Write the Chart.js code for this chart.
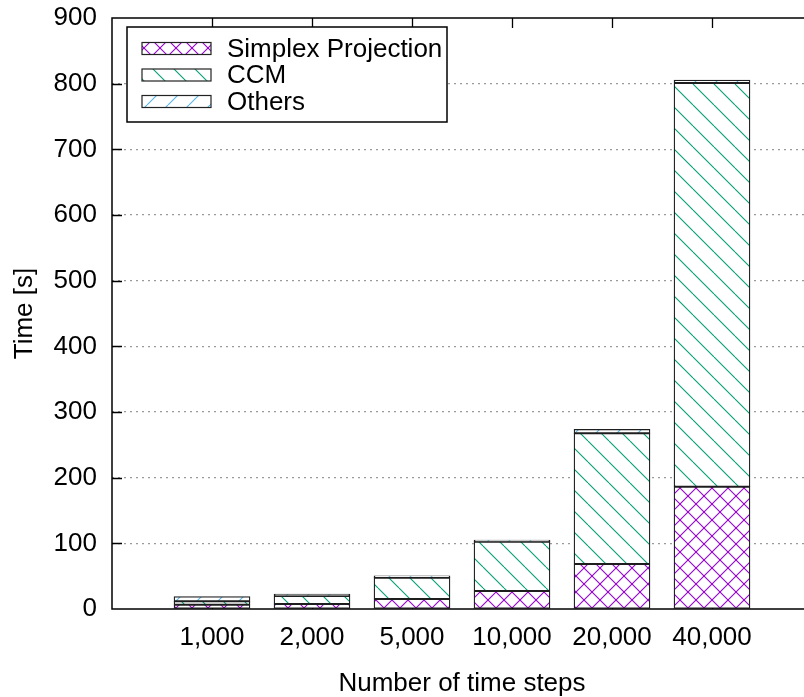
<!DOCTYPE html>
<html>
<head>
<meta charset="utf-8">
<script src="https://cdn.jsdelivr.net/npm/chart.js@4"></script>
<style>
  html, body { margin: 0; padding: 0; overflow: hidden; background: #fff; }
  canvas { display: block; }
</style>
</head>
<body>
<canvas id="c" width="830" height="697"></canvas>
<script>
// Run time per pipeline stage for growing input lengths (empty slots pad the axis ends)
const categories   = ['', '1,000', '2,000', '5,000', '10,000', '20,000', '40,000', ''];
const simplexTimes = [null, 6.5, 7.6, 15.2, 27.4, 68.5, 186.3, null];
const ccmTimes     = [null, 5.2, 12.2, 32.5, 75.1, 199.0, 614.7, null];
const otherTimes   = [null, 7.1, 3.0, 3.0, 2.5, 6.1, 4.5, null];
const seriesNames  = ['Simplex Projection', 'CCM', 'Others'];
const yTickValues  = [0, 100, 200, 300, 400, 500, 600, 700, 800, 900];

const FONT = "'Liberation Sans', Arial, Helvetica, sans-serif";
const FONT_SIZE = 26;
const canvas = document.getElementById('c');
const ctx = canvas.getContext('2d');

// Hatched fills on a white ground: 'back' = \\\ , 'fwd' = ///, 'cross' = xxx
function hatch(color, kind, period) {
  const t = document.createElement('canvas');
  t.width = period; t.height = period;
  const g = t.getContext('2d');
  g.fillStyle = '#fff';
  g.fillRect(0, 0, period, period);
  g.strokeStyle = color;
  g.lineWidth = 1.1;
  const seg = (x0, y0, x1, y1) => { g.beginPath(); g.moveTo(x0, y0); g.lineTo(x1, y1); g.stroke(); };
  for (const o of [-period, 0, period]) {
    if (kind === 'back' || kind === 'cross') seg(o, 0, o + period, period);
    if (kind === 'fwd' || kind === 'cross') seg(o, period, o + period, 0);
  }
  return ctx.createPattern(t, 'repeat');
}

const fills = [
  hatch('#9400d3', 'cross', 16),
  hatch('#009e73', 'back', 21),
  hatch('#56b4e9', 'fwd', 21)
];

// Inward tick marks and the plot frame
const framePlugin = {
  id: 'frame',
  beforeDatasetsDraw(chart) {
    const { ctx, chartArea: a, scales: { x, y } } = chart;
    ctx.save();
    ctx.strokeStyle = '#000';
    ctx.lineWidth = 1.3;
    ctx.beginPath();
    for (const v of yTickValues.slice(1, -1)) {
      const py = Math.round(y.getPixelForValue(v)) + 0.5;
      ctx.moveTo(a.left, py); ctx.lineTo(a.left + 10, py);
    }
    for (let i = 1; i < categories.length - 1; i++) {
      const px = Math.round(x.getPixelForValue(i)) + 0.5;
      ctx.moveTo(px, a.top); ctx.lineTo(px, a.top + 10);
      ctx.moveTo(px, a.bottom); ctx.lineTo(px, a.bottom - 10);
    }
    ctx.stroke();
    ctx.restore();
  },
  afterDatasetsDraw(chart) {
    const { ctx, chartArea: a } = chart;
    ctx.save();
    ctx.strokeStyle = '#000';
    ctx.lineWidth = 1.5;
    ctx.strokeRect(a.left, a.top, a.right - a.left, a.bottom - a.top);
    ctx.restore();
  }
};

// Boxed key in the upper-left corner of the plot
const keyPlugin = {
  id: 'boxKey',
  afterDraw(chart) {
    const { ctx } = chart;
    const box = { x: 127, y: 27, w: 320, h: 95 };
    ctx.save();
    ctx.fillStyle = '#fff';
    ctx.fillRect(box.x, box.y, box.w, box.h);
    ctx.strokeStyle = '#000';
    ctx.lineWidth = 1.5;
    ctx.strokeRect(box.x, box.y, box.w, box.h);
    ctx.font = FONT_SIZE + 'px ' + FONT;
    ctx.textBaseline = 'middle';
    ctx.textAlign = 'left';
    chart.data.datasets.forEach((ds, i) => {
      const cy = 48.5 + i * 26.5;
      ctx.fillStyle = ds.backgroundColor;
      ctx.fillRect(142, cy - 6, 69, 12);
      ctx.strokeStyle = '#222';
      ctx.lineWidth = 1.2;
      ctx.strokeRect(142, cy - 6, 69, 12);
      ctx.fillStyle = '#000';
      ctx.fillText(ds.label, 227, cy + 1);
    });
    ctx.restore();
  }
};

const seriesValues = [simplexTimes, ccmTimes, otherTimes];

new Chart(ctx, {
  type: 'bar',
  data: {
    labels: categories,
    datasets: seriesNames.map((name, i) => ({
      label: name,
      data: seriesValues[i],
      backgroundColor: fills[i],
      borderColor: '#1e1e1e',
      borderWidth: 1.3,
      borderSkipped: false,
      barThickness: 76,
      stack: 'total'
    }))
  },
  options: {
    responsive: false,
    animation: false,
    events: [],
    layout: { padding: { top: 18, right: 18, bottom: 0, left: 0 } },
    plugins: { legend: { display: false }, tooltip: { enabled: false } },
    scales: {
      x: {
        type: 'category',
        stacked: true,
        offset: false,
        grid: { display: false, drawTicks: false },
        border: { display: false },
        ticks: {
          autoSkip: false,
          maxRotation: 0,
          minRotation: 0,
          padding: 13,
          color: '#000',
          font: { family: FONT, size: FONT_SIZE }
        },
        title: {
          display: true,
          text: 'Number of time steps',
          color: '#000',
          font: { family: FONT, size: FONT_SIZE, lineHeight: 1.0 },
          padding: { top: 0, bottom: 0 }
        },
        afterFit(s) { s.height = 88; s.paddingLeft = 0; s.paddingRight = 0; }
      },
      y: {
        stacked: true,
        min: 0,
        max: 900,
        grid: {
          drawTicks: false,
          lineWidth: 1.2,
          color: c => (c.tick && (c.tick.value === 0 || c.tick.value === 900)) ? 'rgba(0,0,0,0)' : '#9a9a9a'
        },
        border: { display: false, dash: [2, 4] },
        afterBuildTicks(s) { s.ticks = yTickValues.map(v => ({ value: v })); },
        ticks: {
          padding: 15,
          color: '#000',
          font: { family: FONT, size: FONT_SIZE }
        },
        title: {
          display: true,
          text: 'Time [s]',
          color: '#000',
          font: { family: FONT, size: FONT_SIZE },
          padding: { top: 9, bottom: 0 }
        },
        afterFit(s) { s.width = 112; s.paddingTop = 0; s.paddingBottom = 0; }
      }
    }
  },
  plugins: [framePlugin, keyPlugin]
});
</script>
</body>
</html>
